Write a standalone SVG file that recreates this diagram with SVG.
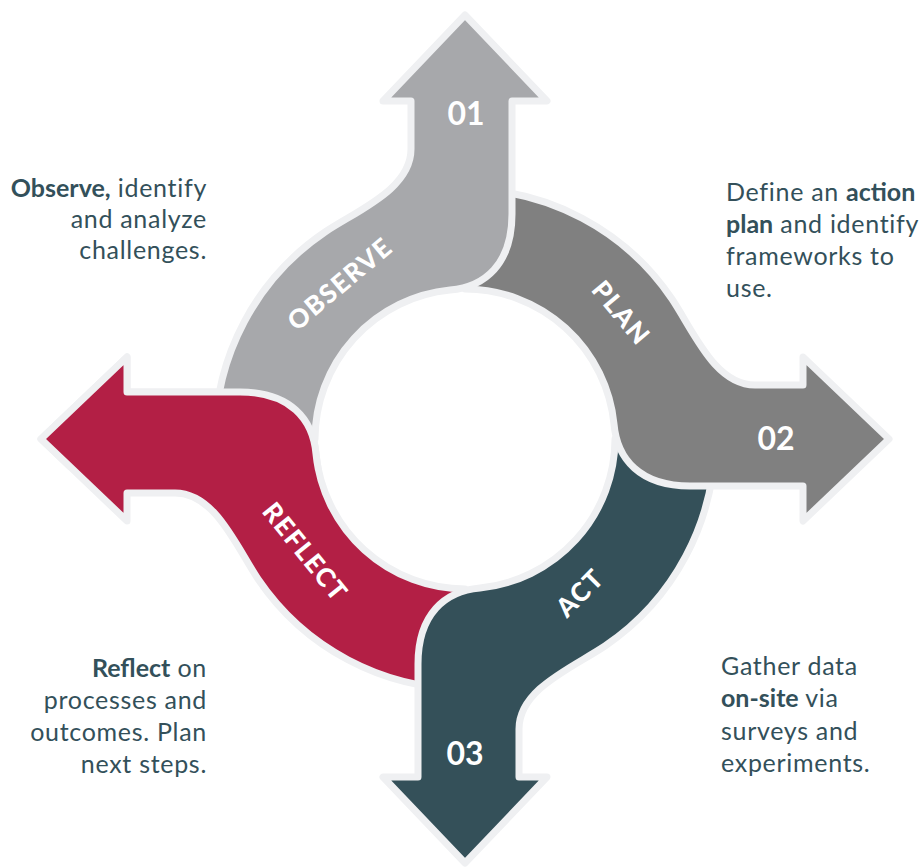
<svg xmlns="http://www.w3.org/2000/svg" xmlns:xlink="http://www.w3.org/1999/xlink" width="924" height="867" viewBox="0 0 924 867">
  <style>
    .arrow { stroke: #eff0f2; stroke-width: 7; stroke-linejoin: round; }
    .num { font-family: Lato, "Open Sans", sans-serif; font-weight: 700; font-size: 32px; fill: #ffffff; text-anchor: middle; }
    .lbl { font-family: Lato, "Open Sans", sans-serif; font-weight: 900; font-size: 26px; fill: #ffffff; text-anchor: middle; letter-spacing: 1.5px; }
    .body { font-family: Lato, "Open Sans", sans-serif; font-weight: 400; font-size: 25px; fill: #33505a; letter-spacing: 0.7px; }
    .b { font-weight: 700; letter-spacing: 0px; }
    .r { text-anchor: end; }
  </style>
  <defs>
    <path id="shape" d="M -250 0 A 250 250 0 0 1 -140 -207 C -107 -229 -54 -250 -54 -290 L -54 -338 L -82 -338 L 0 -424 L 82 -338 L 47 -338 L 47 -225 C 47 -175 20 -152 -15 -149 A 150 150 0 0 0 -150 0 Z"/>
    <clipPath id="ulclip">
      <rect x="0" y="0" width="400" height="470"/>
    </clipPath>
  </defs>
  <rect width="924" height="867" fill="#ffffff"/>

  <g id="node-reflect">
    <use xlink:href="#shape" href="#shape" class="arrow" fill="#b31f45" transform="translate(465,439) rotate(270)"/>
    <text class="num" x="150" y="450">04</text>
    <text class="lbl" transform="translate(305,552) rotate(51)" y="9">REFLECT</text>
  </g>

  <g id="node-act">
    <use xlink:href="#shape" href="#shape" class="arrow" fill="#345059" transform="translate(465,439) rotate(180)"/>
    <text class="num" x="465" y="765">03</text>
    <text class="lbl" transform="translate(580,593) rotate(-45)" y="9">ACT</text>
  </g>

  <g id="node-plan">
    <use xlink:href="#shape" href="#shape" class="arrow" fill="#808080" transform="translate(465,439) rotate(90)"/>
    <text class="num" x="776" y="450">02</text>
    <text class="lbl" transform="translate(621,313) rotate(50)" y="9">PLAN</text>
  </g>

  <g id="node-observe">
    <use xlink:href="#shape" href="#shape" class="arrow" fill="#a7a8ab" transform="translate(465,439)"/>
    <text class="num" x="466" y="125">01</text>
    <text class="lbl" transform="translate(340,284) rotate(-40)" y="9">OBSERVE</text>
  </g>

  <g id="overlap-reflect" clip-path="url(#ulclip)">
    <use xlink:href="#shape" href="#shape" class="arrow" fill="#b31f45" transform="translate(465,439) rotate(270)"/>
  </g>

  <g id="text-observe">
    <text class="body r" x="207" y="197"><tspan class="b">Observe,</tspan> identify</text>
    <text class="body r" x="207" y="228">and analyze</text>
    <text class="body r" x="207" y="259">challenges.</text>
  </g>
  <g id="text-plan">
    <text class="body" x="726" y="201">Define an <tspan class="b">action</tspan></text>
    <text class="body" x="726" y="233"><tspan class="b">plan</tspan> and identify</text>
    <text class="body" x="726" y="265">frameworks to</text>
    <text class="body" x="726" y="297">use.</text>
  </g>
  <g id="text-act">
    <text class="body" x="721" y="675">Gather data</text>
    <text class="body" x="721" y="707"><tspan class="b">on-site</tspan> via</text>
    <text class="body" x="721" y="740">surveys and</text>
    <text class="body" x="721" y="772">experiments.</text>
  </g>
  <g id="text-reflect">
    <text class="body r" x="207" y="677"><tspan class="b">Reflect</tspan> on</text>
    <text class="body r" x="207" y="709">processes and</text>
    <text class="body r" x="207" y="741">outcomes. Plan</text>
    <text class="body r" x="207" y="773">next steps.</text>
  </g>
</svg>
